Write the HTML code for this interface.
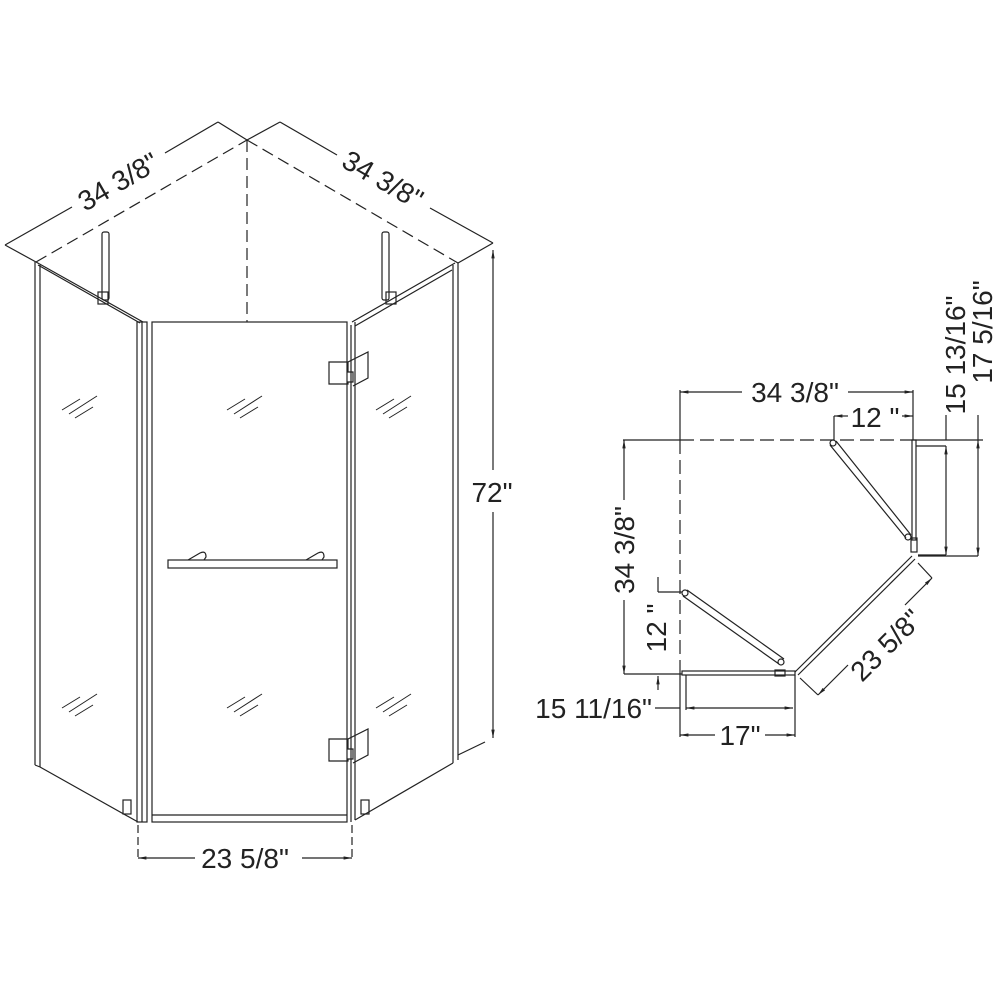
<!DOCTYPE html>
<html><head><meta charset="utf-8"><style>
html,body{margin:0;padding:0;background:#fff}
svg{display:block}
text{font-family:"Liberation Sans",Arial,sans-serif;fill:#222}
</style></head><body>
<svg width="1000" height="1000" viewBox="0 0 1000 1000" xmlns="http://www.w3.org/2000/svg">
<defs>
<marker id="a" viewBox="0 0 10 10" refX="10" refY="5" markerWidth="7" markerHeight="7" orient="auto-start-reverse"><path d="M0,3 L10,5 L0,7z" fill="#222"/></marker>
</defs>
<g stroke="#222" stroke-width="1.2" fill="none">
<line x1="5" y1="245" x2="72" y2="207"/>
<line x1="165" y1="153" x2="218" y2="122"/>
<line x1="5" y1="245" x2="36" y2="262"/>
<line x1="218" y1="122" x2="247" y2="140"/>
<line x1="280" y1="122" x2="247" y2="140"/>
<line x1="280" y1="122" x2="337" y2="155"/>
<line x1="430" y1="208" x2="493" y2="243"/>
<line x1="493" y1="243" x2="458" y2="263"/>
<g stroke-dasharray="12,6">
<line x1="36" y1="262" x2="247" y2="140"/>
<line x1="247" y1="140" x2="458" y2="263"/>
<line x1="247" y1="140" x2="247" y2="322"/>
</g>
<line x1="493" y1="250" x2="493" y2="470" marker-start="url(#a)"/>
<line x1="493" y1="512" x2="493" y2="738" marker-end="url(#a)"/>
<line x1="458" y1="755" x2="485" y2="742"/>
<line x1="35" y1="262" x2="35" y2="765"/>
<line x1="40" y1="265" x2="40" y2="767"/>
<line x1="36" y1="262" x2="143" y2="322"/>
<line x1="38" y1="265" x2="140" y2="323"/>
<line x1="40" y1="767" x2="138" y2="822"/>
<line x1="35" y1="765" x2="40" y2="767"/>
<rect x="137" y="322" width="10" height="500"/>
<line x1="142" y1="322" x2="142" y2="822"/>
<rect x="152" y="322" width="195" height="500"/>
<line x1="152" y1="815" x2="347" y2="815"/>
<line x1="351" y1="325" x2="351" y2="822"/>
<line x1="355" y1="322" x2="355" y2="820"/>
<line x1="352" y1="322" x2="455" y2="263"/>
<line x1="355" y1="326" x2="452" y2="270"/>
<line x1="453" y1="265" x2="453" y2="763"/>
<line x1="458" y1="263" x2="458" y2="760"/>
<line x1="355" y1="820" x2="453" y2="763"/>
<line x1="138" y1="825" x2="138" y2="860" stroke-dasharray="8,4"/>
<line x1="352" y1="825" x2="352" y2="860" stroke-dasharray="8,4"/>
<line x1="138" y1="858" x2="195" y2="858" marker-start="url(#a)"/>
<line x1="302" y1="858" x2="352" y2="858" marker-end="url(#a)"/>
<rect x="168" y="560" width="169" height="8"/>
<path d="M188,560 L200,553 Q206,550 206,557 L204,560"/>
<path d="M306,560 L318,553 Q324,550 324,557 L322,560"/>
<path d="M329,362 L348,362 L348,372 L353,372 L353,382 L348,382 L348,384 L329,384Z"/>
<path d="M348,362 L368,352 L368,378 L353,386"/>
<path d="M329,739 L348,739 L348,749 L353,749 L353,759 L348,759 L348,761 L329,761Z"/>
<path d="M348,739 L368,729 L368,755 L353,763"/>
<rect x="123" y="800" width="8" height="14"/>
<rect x="361" y="800" width="8" height="14"/>
<rect x="102" y="232" width="7" height="68" rx="2"/>
<rect x="98" y="292" width="10" height="12"/>
<rect x="382" y="232" width="7" height="68" rx="2"/>
<rect x="386" y="292" width="10" height="12"/>
<g stroke-width="1">
<path d="M69,414 L97,396 M75,418 L93,407 M62,410 L80,399"/>
<path d="M234,414 L262,396 M240,418 L258,407 M227,410 L245,399"/>
<path d="M383,414 L411,396 M389,418 L407,407 M376,410 L394,399"/>
<path d="M69,712 L97,694 M75,716 L93,705 M62,708 L80,697"/>
<path d="M234,712 L262,694 M240,716 L258,705 M227,708 L245,697"/>
<path d="M383,712 L411,694 M389,716 L407,705 M376,708 L394,697"/>
</g>

<line x1="680" y1="392" x2="742" y2="392" marker-start="url(#a)"/>
<line x1="848" y1="392" x2="913" y2="392" marker-end="url(#a)"/>
<line x1="834" y1="416" x2="848" y2="416" marker-start="url(#a)"/>
<line x1="902" y1="416" x2="913" y2="416" marker-end="url(#a)"/>
<line x1="834" y1="416" x2="834" y2="440"/>
<line x1="913" y1="390" x2="913" y2="440"/>
<line x1="680" y1="390" x2="680" y2="440"/>
<line x1="623" y1="440" x2="680" y2="440"/>
<line x1="913" y1="440" x2="983" y2="440"/>
<g stroke-dasharray="14,6">
<line x1="680" y1="440" x2="913" y2="440"/>
<line x1="680" y1="440" x2="680" y2="672"/>
</g>
<line x1="624" y1="440" x2="624" y2="500" marker-start="url(#a)"/>
<line x1="624" y1="600" x2="624" y2="674" marker-end="url(#a)"/>
<line x1="624" y1="674" x2="682" y2="674"/>
<line x1="658" y1="577" x2="658" y2="592"/>
<line x1="658" y1="592" x2="682" y2="592"/>
<line x1="658" y1="676" x2="658" y2="690" marker-start="url(#a)"/>
<rect x="682" y="671" width="113" height="4"/>
<rect x="775" y="670" width="10" height="6"/>
<line x1="795" y1="675" x2="795" y2="737"/>
<line x1="680" y1="672" x2="680" y2="737"/>
<line x1="686" y1="675" x2="686" y2="710"/>
<line x1="655" y1="708" x2="680" y2="708"/>
<line x1="686" y1="708" x2="793" y2="708" marker-start="url(#a)" marker-end="url(#a)"/>
<line x1="680" y1="735" x2="715" y2="735" marker-start="url(#a)"/>
<line x1="765" y1="735" x2="795" y2="735" marker-end="url(#a)"/>
<line x1="795" y1="672" x2="912" y2="556"/>
<line x1="798" y1="675" x2="915" y2="559"/>
<line x1="800" y1="678" x2="818" y2="695"/>
<line x1="918" y1="563" x2="932" y2="578"/>
<line x1="932" y1="578" x2="905" y2="605" marker-start="url(#a)"/>
<line x1="848" y1="665" x2="818" y2="695" marker-end="url(#a)"/>
<rect x="912" y="440" width="4" height="100"/>
<rect x="911" y="538" width="6" height="14"/>
<line x1="916" y1="446" x2="946" y2="446"/>
<line x1="918" y1="555" x2="946" y2="555"/>
<line x1="946" y1="446" x2="946" y2="555" marker-start="url(#a)" marker-end="url(#a)"/>
<line x1="946" y1="415" x2="946" y2="440"/>
<line x1="978" y1="415" x2="978" y2="440"/>
<line x1="978" y1="440" x2="978" y2="556" marker-start="url(#a)" marker-end="url(#a)"/>
<line x1="918" y1="556" x2="978" y2="556"/>
<path d="M830,445 L906,538 M836,441 L911,535"/>
<path d="M683,596 L779,664 M687,590 L784,659"/>
<circle cx="833" cy="443" r="3"/><circle cx="908" cy="537" r="3"/>
<circle cx="685" cy="593" r="3"/><circle cx="781" cy="662" r="3"/>
</g>

<g font-size="28">
<text transform="translate(123,190) rotate(-30)" text-anchor="middle">34 3/8"</text>
<text transform="translate(378,188) rotate(30)" text-anchor="middle">34 3/8"</text>
<text x="492" y="502" text-anchor="middle">72"</text>
<text x="245" y="868" text-anchor="middle">23 5/8"</text>
<text x="795" y="402" text-anchor="middle">34 3/8"</text>
<text x="875" y="427" text-anchor="middle">12 "</text>
<text transform="translate(634,550) rotate(-90)" text-anchor="middle">34 3/8"</text>
<text transform="translate(666,628) rotate(-90)" text-anchor="middle">12 "</text>
<text x="652" y="718" text-anchor="end">15 11/16"</text>
<text x="740" y="745" text-anchor="middle">17"</text>
<text transform="translate(893,652) rotate(-45)" text-anchor="middle">23 5/8"</text>
<text transform="translate(965,355) rotate(-90)" text-anchor="middle">15 13/16"</text>
<text transform="translate(992,332) rotate(-90)" text-anchor="middle">17 5/16"</text>
</g>
</svg>
</body></html>
